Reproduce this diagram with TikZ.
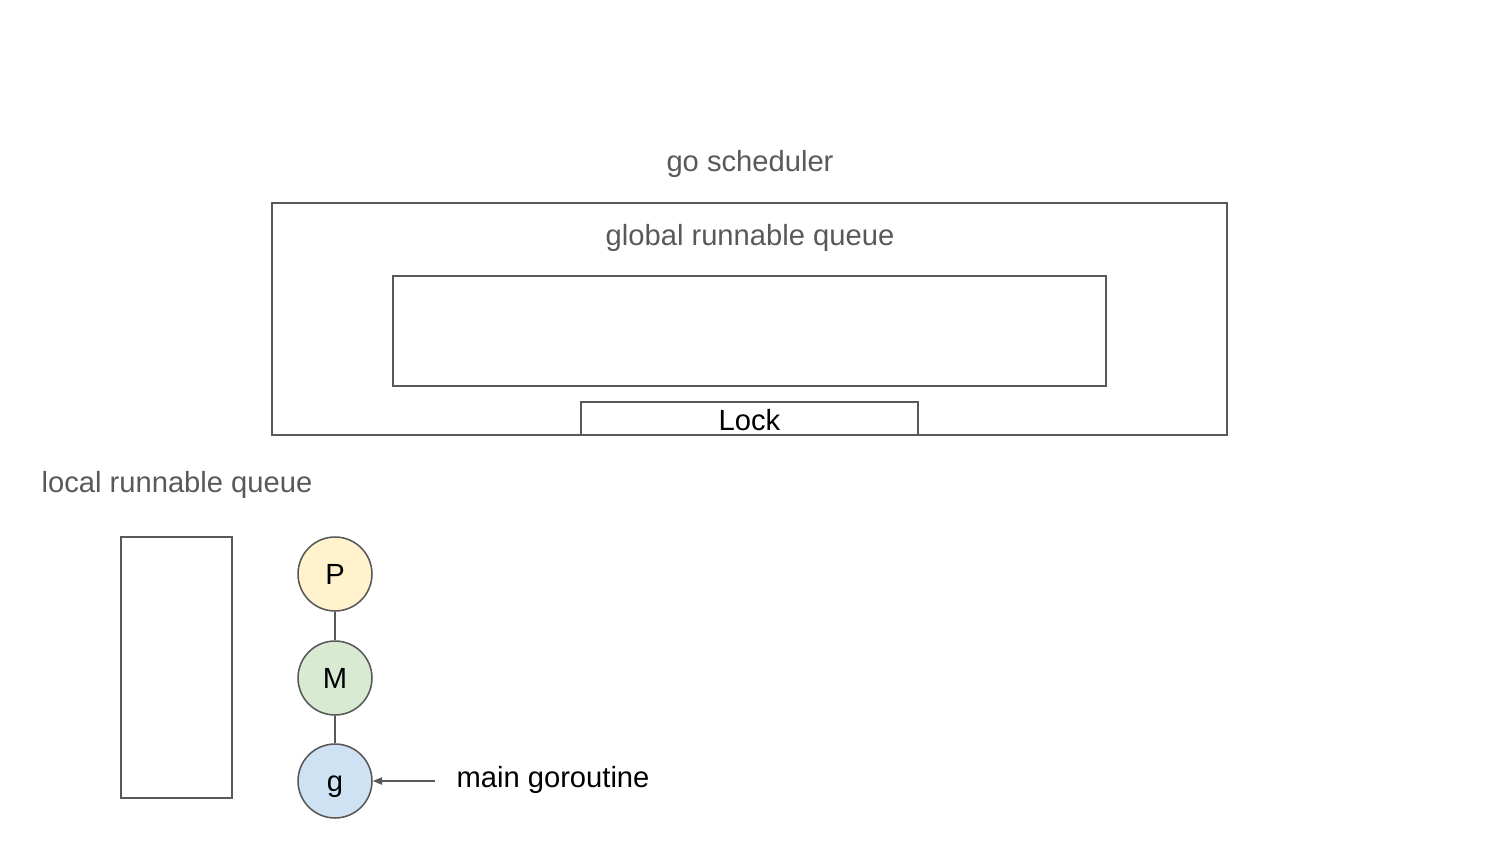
\documentclass[tikz,border=0pt]{standalone}
\usepackage{fontspec}
\setmainfont{Liberation Sans}
\usetikzlibrary{arrows.meta}
\definecolor{edgegray}{HTML}{595959}
\definecolor{pyellow}{HTML}{FFF2CC}
\definecolor{mgreen}{HTML}{D9EAD3}
\definecolor{gblue}{HTML}{CFE2F3}
\begin{document}
\begin{tikzpicture}
  [x=0.48pt,y=-0.48pt,font=\fontsize{14}{16}\selectfont,
   every node/.style={inner sep=0pt},
   box/.style={draw=edgegray,line width=0.75pt,rectangle},
   title/.style={text=edgegray},
   proc/.style={circle,draw=edgegray,line width=0.75pt,minimum size=35.5pt,
     text height=10pt,text depth=0pt}]
  \useasboundingbox (0,0) rectangle (1500,844);
  \node[title] (sched) at (750,164) {go scheduler};
  \node[box,minimum width=458.4pt,minimum height=111.4pt] (outer) at (749.5,319) {};
  \node[title] (gq) at (750,238) {global runnable queue};
  \node[box,minimum width=342.2pt,minimum height=52.8pt] (inner) at (749.5,331) {};
  \node[box,minimum width=161.8pt,minimum height=15.8pt,text height=11.4pt,text depth=0pt] (lock) at (749.5,418.5) {Lock};
  \node[title] (lq) at (177,485) {local runnable queue};
  \node[box,minimum width=53.3pt,minimum height=125.3pt] (local) at (176.5,667.5) {};

  \node[proc,fill=pyellow] (p) at (335,574) {P};
  \node[proc,fill=mgreen] (m) at (335,678) {M};
  \node[proc,fill=gblue] (g) at (335,781) {g};
  \node (main) at (553,780) {main goroutine};
  \coordinate (tail) at (435,781);

  \foreach \from/\to in {p/m,m/g}
    \draw[edgegray,line width=0.75pt] (\from) -- (\to);
  \draw[edgegray,line width=0.75pt,-{Triangle[length=4.5pt,width=3.5pt]}] (tail) -- (g);

\end{tikzpicture}
\end{document}
